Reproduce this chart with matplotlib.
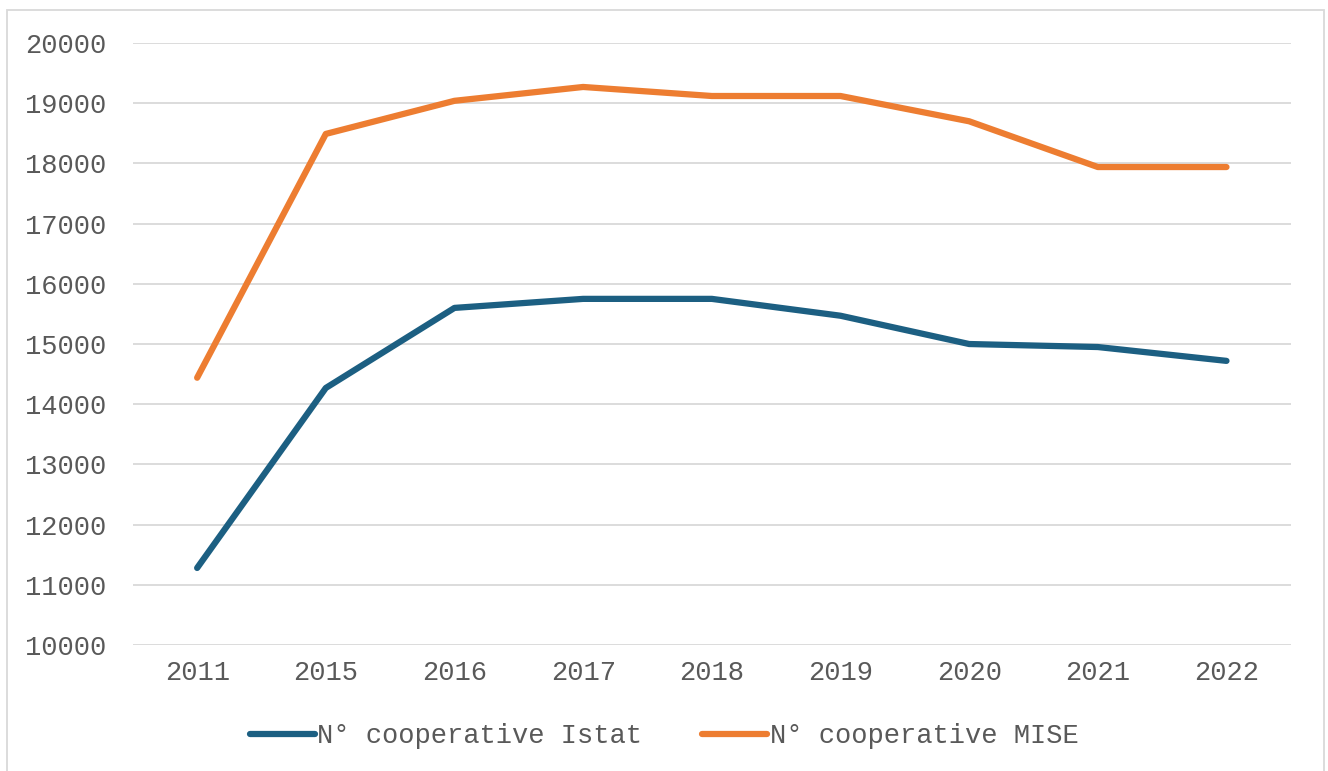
import matplotlib.pyplot as plt
from matplotlib.patches import Rectangle

anni = ['2011', '2015', '2016', '2017', '2018', '2019', '2020', '2021', '2022']
coop_istat = [11280, 14270, 15600, 15750, 15750, 15470, 15000, 14950, 14720]
coop_mise = [14440, 18490, 19040, 19270, 19120, 19120, 18700, 17940, 17940]

plt.rcParams['font.family'] = ['Liberation Mono', 'DejaVu Sans']

fig = plt.figure(figsize=(13.28, 7.71), dpi=100)
ax = fig.add_axes([0.100, 0.1634, 0.872, 0.7808])

x = range(len(anni))
ax.plot(x, coop_istat, color='#1c5f82', linewidth=4.5, solid_capstyle='round',
        label='N° cooperative Istat')
ax.plot(x, coop_mise, color='#ed7d31', linewidth=4.5, solid_capstyle='round',
        label='N° cooperative MISE')

ax.set_xlim(-0.5, len(anni) - 0.5)
ax.set_ylim(10000, 20000)
ax.set_yticks(range(10000, 20001, 1000))
ax.set_xticks(list(x))
ax.set_xticklabels(anni)
ax.grid(axis='y', color='#d9d9d9', linewidth=1.3)
ax.set_axisbelow(True)
for s in ax.spines.values():
    s.set_visible(False)
ax.tick_params(length=0, labelsize=19.5, labelcolor='#595959')
ax.tick_params(axis='y', pad=19)
ax.tick_params(axis='x', pad=11)

leg = fig.legend(loc='center', bbox_to_anchor=(0.5, 0.045), ncol=2, frameon=False,
                 fontsize=19.5, handlelength=2.4, handletextpad=0.1, columnspacing=2.2,
                 labelcolor='#595959')

fig.patches.append(Rectangle((7 / 1328, -0.05), 1317 / 1328, 1.05 - 10 / 771,
                             transform=fig.transFigure, fill=False,
                             edgecolor='#d9d9d9', linewidth=1.3))

fig.savefig('out.png', dpi=100)
